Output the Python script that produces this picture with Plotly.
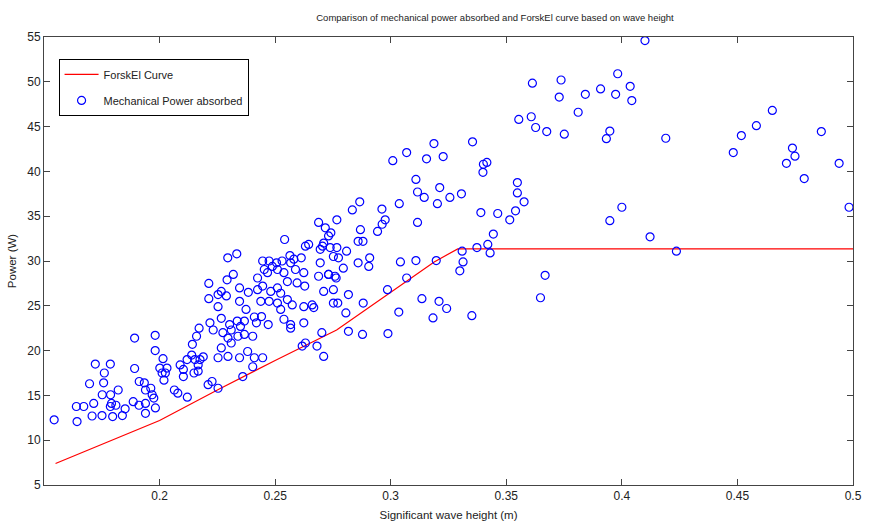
import plotly.graph_objects as go

# ForskEl curve
curve_h = [0.155, 0.17, 0.185, 0.2, 0.225, 0.25, 0.2766, 0.3, 0.3188, 0.329, 0.5]
curve_p = [7.4, 9.0, 10.6, 12.2, 15.6, 18.9, 22.3, 26.5, 29.9, 31.35, 31.35]

# Mechanical power absorbed (scatter)
meas_h = [
    0.1544, 0.164, 0.1672, 0.1643, 0.1708, 0.1715, 0.1697, 0.1722, 0.1751, 0.1752,
    0.1758, 0.1761, 0.1787, 0.1788, 0.1792, 0.1787, 0.1797, 0.1821, 0.1811, 0.1839,
    0.1851, 0.1892, 0.1892, 0.1886, 0.1912, 0.1911, 0.1934, 0.1939, 0.1939, 0.1939,
    0.1962, 0.1968, 0.1975, 0.1982, 0.1981, 0.1981, 0.2015, 0.2001, 0.2011, 0.2025,
    0.2032, 0.2019, 0.2064, 0.2079, 0.2089, 0.2103, 0.2103, 0.2120, 0.2119, 0.2139,
    0.2142, 0.2160, 0.2171, 0.2153, 0.2167, 0.2175, 0.2189, 0.2149, 0.2167, 0.2210,
    0.2227, 0.2218, 0.2232, 0.2213, 0.2213,
    0.2541, 0.2631, 0.2645, 0.2710, 0.2731, 0.2741, 0.2705, 0.2695, 0.2295, 0.2334,
    0.2446, 0.2474, 0.2506, 0.2530, 0.2564, 0.2581, 0.2613, 0.2695, 0.2752, 0.2738,
    0.2424, 0.2453, 0.2467, 0.2488, 0.2510, 0.2538, 0.2567, 0.2588, 0.2624, 0.2688,
    0.2731, 0.2759, 0.2319, 0.2292, 0.2253, 0.2267, 0.2289, 0.2346, 0.2384, 0.2424,
    0.2446, 0.2481, 0.2510, 0.2553, 0.2524, 0.2595, 0.2628, 0.2710, 0.2752, 0.2253,
    0.2267, 0.2346, 0.2374, 0.2438, 0.2474, 0.2510, 0.2524, 0.2553, 0.2574, 0.2624,
    0.2660, 0.2667, 0.2752, 0.2303, 0.2310, 0.2336, 0.2350, 0.2367, 0.2410, 0.2419,
    0.2441, 0.2470, 0.2538, 0.2567, 0.2624, 0.2274, 0.2296, 0.2310, 0.2339, 0.2367,
    0.2403, 0.2567, 0.2267, 0.2296, 0.2346, 0.2381, 0.2410, 0.2446, 0.2617, 0.2631,
    0.2681, 0.2702, 0.2710, 0.2253, 0.2360, 0.2403, 0.2253,
    0.2866, 0.2834, 0.2767, 0.2688, 0.2717, 0.2869, 0.2859, 0.2880, 0.2809, 0.2767,
    0.2774, 0.2795, 0.2859, 0.2764, 0.2731, 0.2817, 0.2771, 0.2806, 0.2881, 0.2817,
    0.2878,
    0.3187, 0.3354, 0.3069, 0.3009, 0.3155, 0.3227, 0.3401, 0.3416, 0.3399, 0.3109,
    0.3116, 0.3145, 0.3212, 0.3202, 0.3256, 0.3306, 0.3037, 0.2962, 0.2976, 0.2963,
    0.2943, 0.3116, 0.3390, 0.3463, 0.3515, 0.3444, 0.3420, 0.3373, 0.3430, 0.3309,
    0.3313, 0.3299, 0.3197, 0.3109, 0.3042, 0.3069, 0.2986, 0.2909, 0.2905, 0.3035,
    0.3135, 0.3209, 0.3242, 0.3183, 0.3351, 0.2988,
    0.4100, 0.3613, 0.3737, 0.3982, 0.4036, 0.3908, 0.3973, 0.3729, 0.3842, 0.4043,
    0.3811, 0.3554, 0.3608, 0.3627, 0.3675, 0.3751, 0.3948, 0.3933, 0.4190, 0.3548,
    0.3548, 0.3577, 0.3540, 0.4000, 0.3948, 0.4122, 0.4236, 0.3668, 0.3648,
    0.4651, 0.4582, 0.4517, 0.4482, 0.4863, 0.4738, 0.4749, 0.4712, 0.4940, 0.4789,
    0.4983,
]
meas_p = [
    12.27, 13.76, 13.76, 12.08, 12.7, 14.1, 16.3, 18.5, 12.75, 15.07,
    16.4, 17.5, 18.5, 15.07, 14.1, 13.76, 12.64, 15.6, 13.9, 12.75,
    13.5, 21.4, 18.0, 14.3, 16.55, 13.9, 16.4, 14.1, 13.0, 15.6,
    15.8, 15.07, 14.7, 13.6, 21.7, 20.0, 19.1, 18.05, 17.5, 17.5,
    18.05, 16.7, 15.6, 15.25, 18.4, 17.9, 17.1, 14.8, 19.0, 19.5,
    20.7, 21.6, 22.5, 19.0, 18.4, 19.0, 19.3, 17.5, 17.7, 16.2,
    16.55, 23.1, 22.3, 27.5, 25.8,
    32.4, 31.66, 31.85, 32.0, 32.8, 33.15, 31.66, 31.3, 30.35, 30.8,
    30.0, 30.0, 29.8, 30.0, 30.6, 30.2, 30.35, 29.8, 30.5, 31.5,
    28.1, 29.05, 28.7, 29.4, 29.05, 28.7, 29.8, 29.05, 28.7, 28.3,
    28.5, 28.3, 28.5, 27.9, 26.25, 26.6, 26.1, 27.0, 26.5, 26.8,
    27.2, 26.6, 27.0, 27.7, 26.4, 27.55, 27.2, 26.6, 26.8, 24.9,
    23.6, 25.5, 24.6, 25.5, 25.5, 25.3, 24.6, 25.7, 25.1, 24.9,
    25.1, 24.8, 25.3, 22.9, 22.3, 23.3, 22.7, 23.3, 23.75, 23.1,
    23.8, 22.9, 23.5, 22.9, 23.1, 22.0, 21.4, 20.85, 21.6, 21.8,
    21.6, 22.5, 20.3, 19.35, 19.2, 19.9, 19.2, 19.2, 20.5, 20.85,
    20.5, 22.0, 19.35, 19.2, 17.1, 18.2, 15.8,
    36.6, 35.7, 34.6, 34.3, 33.7, 33.5, 32.2, 32.2, 31.1, 31.5,
    30.35, 29.2, 29.8, 28.1, 28.5, 26.25, 25.3, 24.2, 25.3, 22.15,
    21.8,
    43.1, 43.3, 42.1, 41.2, 41.4, 41.65, 40.8, 41.0, 39.9, 39.1,
    37.7, 37.1, 38.2, 36.4, 37.1, 37.5, 36.4, 35.8, 34.6, 34.1,
    33.3, 34.3, 35.4, 35.3, 34.6, 33.0, 31.85, 31.5, 30.9, 31.1,
    29.9, 28.9, 30.05, 30.05, 29.9, 28.1, 26.8, 30.35, 29.4, 24.3,
    25.8, 25.5, 24.7, 23.65, 23.9, 21.9,
    54.6, 49.85, 50.2, 50.9, 49.5, 49.2, 48.6, 48.3, 48.6, 47.9,
    46.6, 45.8, 46.1, 44.9, 44.45, 44.15, 44.5, 43.65, 43.7, 38.75,
    37.6, 36.6, 35.6, 36.0, 34.5, 32.7, 31.1, 28.4, 25.9,
    46.8, 45.1, 44.0, 42.1, 44.45, 42.6, 41.7, 40.9, 40.9, 39.2,
    36.0,
]

x_ticks = [0.2, 0.25, 0.3, 0.35, 0.4, 0.45, 0.5]
x_tick_text = ["0.2", "0.25", "0.3", "0.35", "0.4", "0.45", "0.5"]
y_ticks = [5, 10, 15, 20, 25, 30, 35, 40, 45, 50, 55]

FONT = "Liberation Sans Narrow, Arial Narrow, Liberation Sans, Arial, sans-serif"
TXT = "#222222"

fig = go.Figure()
fig.add_trace(go.Scatter(
    x=curve_h, y=curve_p, mode="lines", name="ForskEl Curve",
    legendgroup="a",
    line=dict(color="#FF0000", width=1.2),
))
fig.add_trace(go.Scatter(
    x=meas_h, y=meas_p, mode="markers", name="Mechanical Power absorbed",
    legendgroup="b",
    marker=dict(symbol="circle-open", size=8, color="#0000FF",
                line=dict(width=1.2, color="#0000FF")),
))

axis_common = dict(
    showgrid=False, zeroline=False, showline=True, linecolor="#444444",
    linewidth=1, mirror="ticks", ticks="inside", ticklen=6,
    tickcolor="#444444", tickfont=dict(family=FONT, size=12, color=TXT),
)

fig.update_layout(
    width=873, height=531,
    margin=dict(l=44, r=11, t=37, b=46),
    paper_bgcolor="white", plot_bgcolor="white",
    font=dict(family=FONT, size=11, color=TXT),
    title=dict(
        text="Comparison of mechanical power absorbed and ForskEl curve based on wave height",
        x=495 / 873, xanchor="center", y=1 - 18 / 531, yanchor="middle",
        font=dict(family=FONT, size=9.5, color=TXT),
    ),
    xaxis=dict(range=[0.15, 0.5], tickvals=x_ticks, ticktext=x_tick_text,
               title=dict(text="Significant wave height (m)", standoff=8,
                          font=dict(family=FONT, size=11.5)),
               **axis_common),
    yaxis=dict(range=[5, 55], tickvals=y_ticks,
               title=dict(text="Power (W)", standoff=8,
                          font=dict(family=FONT, size=11.5)),
               **axis_common),
    legend=dict(
        x=0.018, y=0.951, xanchor="left", yanchor="top",
        bgcolor="white", bordercolor="#000000", borderwidth=1,
        font=dict(family=FONT, size=11, color=TXT),
        tracegroupgap=7, itemwidth=34,
    ),
    showlegend=True,
)

fig.write_html("out.html")
